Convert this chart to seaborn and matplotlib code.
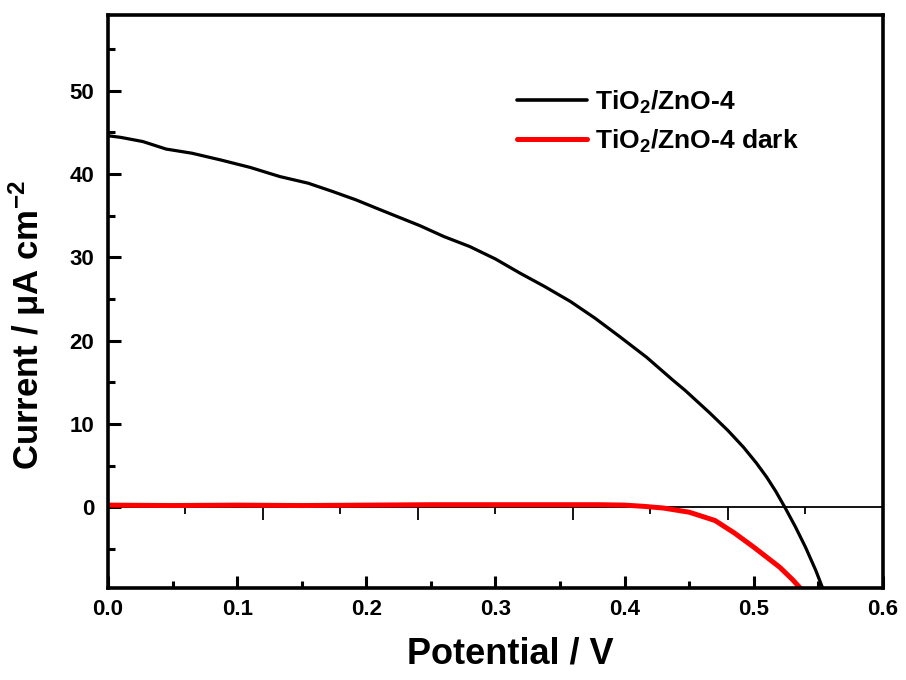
import numpy as np
import pandas as pd
import matplotlib
matplotlib.use("Agg")
import matplotlib.pyplot as plt
from matplotlib.ticker import MultipleLocator, AutoMinorLocator
import seaborn as sns

# light J-V curve
v_light = [0.000, 0.010, 0.027, 0.045, 0.065, 0.087, 0.110, 0.133, 0.155, 0.174,
           0.192, 0.211, 0.2415, 0.260, 0.280, 0.300, 0.319, 0.338, 0.358, 0.377,
           0.396, 0.417, 0.437, 0.447, 0.466, 0.480, 0.492, 0.502, 0.510, 0.517,
           0.524, 0.532, 0.540, 0.548, 0.556]
i_light = [44.6, 44.4, 43.9, 43.0, 42.5, 41.7, 40.8, 39.7, 38.9, 37.9,
           36.9, 35.7, 33.8, 32.5, 31.3, 29.8, 28.1, 26.5, 24.7, 22.7,
           20.5, 18.0, 15.3, 14.0, 11.3, 9.2, 7.2, 5.3, 3.6, 1.9,
           0.0, -2.3, -4.8, -7.6, -10.8]

# dark curve
v_dark = [0.000, 0.050, 0.100, 0.150, 0.200, 0.250, 0.300, 0.350, 0.380, 0.400,
          0.415, 0.430, 0.450, 0.470, 0.485, 0.500, 0.510, 0.520, 0.530, 0.540]
i_dark = [0.25, 0.2, 0.25, 0.2, 0.25, 0.3, 0.3, 0.3, 0.3, 0.25,
          0.1, -0.1, -0.6, -1.6, -3.1, -4.8, -6.0, -7.2, -8.7, -10.4]

labels = ["TiO$_2$/ZnO-4", "TiO$_2$/ZnO-4 dark"]

sns.set_style("ticks")
plt.rcParams['font.family'] = ['Liberation Sans', 'DejaVu Sans']
plt.rcParams['font.weight'] = 'bold'
plt.rcParams['mathtext.fontset'] = 'custom'
plt.rcParams['mathtext.rm'] = 'Liberation Sans:bold'
plt.rcParams['mathtext.it'] = 'Liberation Sans:bold'
plt.rcParams['mathtext.bf'] = 'Liberation Sans:bold'
plt.rcParams['mathtext.default'] = 'rm'
for k in ['text.color', 'axes.labelcolor', 'axes.edgecolor', 'xtick.color', 'ytick.color']:
    plt.rcParams[k] = 'black'

df = pd.concat([
    pd.DataFrame({'V': v_light, 'I': i_light, 'curve': labels[0]}),
    pd.DataFrame({'V': v_dark, 'I': i_dark, 'curve': labels[1]}),
])

fig = plt.figure(figsize=(9.06, 6.8), dpi=100)
ax = fig.add_axes([0.1192, 0.1353, 0.8554, 0.8427])

sns.lineplot(data=df, x='V', y='I', hue='curve', sort=False, estimator=None,
             palette={labels[0]: 'black', labels[1]: '#ff0000'},
             size='curve', sizes={labels[0]: 2.3, labels[1]: 3.6}, ax=ax)

ax.set_xlim(0, 0.6)
ax.set_ylim(-9.7, 59.1)
ax.set_yticks([0, 10, 20, 30, 40, 50])
ax.yaxis.set_minor_locator(MultipleLocator(5))
xt = np.round(np.arange(0, 0.61, 0.1), 2)
ax.set_xticks(xt)
ax.set_xticklabels([f"{t:.1f}" for t in xt])
ax.xaxis.set_minor_locator(AutoMinorLocator(2))

for s in ax.spines.values():
    s.set_linewidth(2.6)
ax.tick_params(which='both', direction='in', width=2.2, labelsize=16,
               top=False, right=False)
ax.tick_params(axis='y', pad=10)
ax.tick_params(axis='x', pad=8)
ax.tick_params(which='major', length=9)
ax.tick_params(which='minor', length=5)

# axis line through zero with its own ticks
zax = ax.secondary_xaxis(0, transform=ax.transData)
zax.spines['bottom'].set_linewidth(1.3)
zax.xaxis.set_major_locator(MultipleLocator(0.12))
zax.xaxis.set_minor_locator(AutoMinorLocator(2))
zax.tick_params(which='both', direction='out', width=1.3, labelbottom=False)
zax.tick_params(which='major', length=9)
zax.tick_params(which='minor', length=5)

ax.set_xlabel("Potential / V", fontsize=26, fontweight='bold')
ax.set_ylabel("Current / \u03bcA cm$^{-2}$", fontsize=25, fontweight='bold')
ax.xaxis.set_label_coords(0.519, -0.085)
ax.yaxis.set_label_coords(-0.078, 0.459)

ax.legend(handles=ax.get_lines()[:2], labels=labels, frameon=False, fontsize=19,
          loc='upper left', bbox_to_anchor=(0.497, 0.913), handlelength=2.65,
          handletextpad=0.3, labelspacing=0.45)
leg = ax.get_legend()
for h, lw in zip(leg.legend_handles, [2.6, 3.6]):
    h.set_linewidth(lw)

fig.savefig('out.png', dpi=100)
plt.close()
